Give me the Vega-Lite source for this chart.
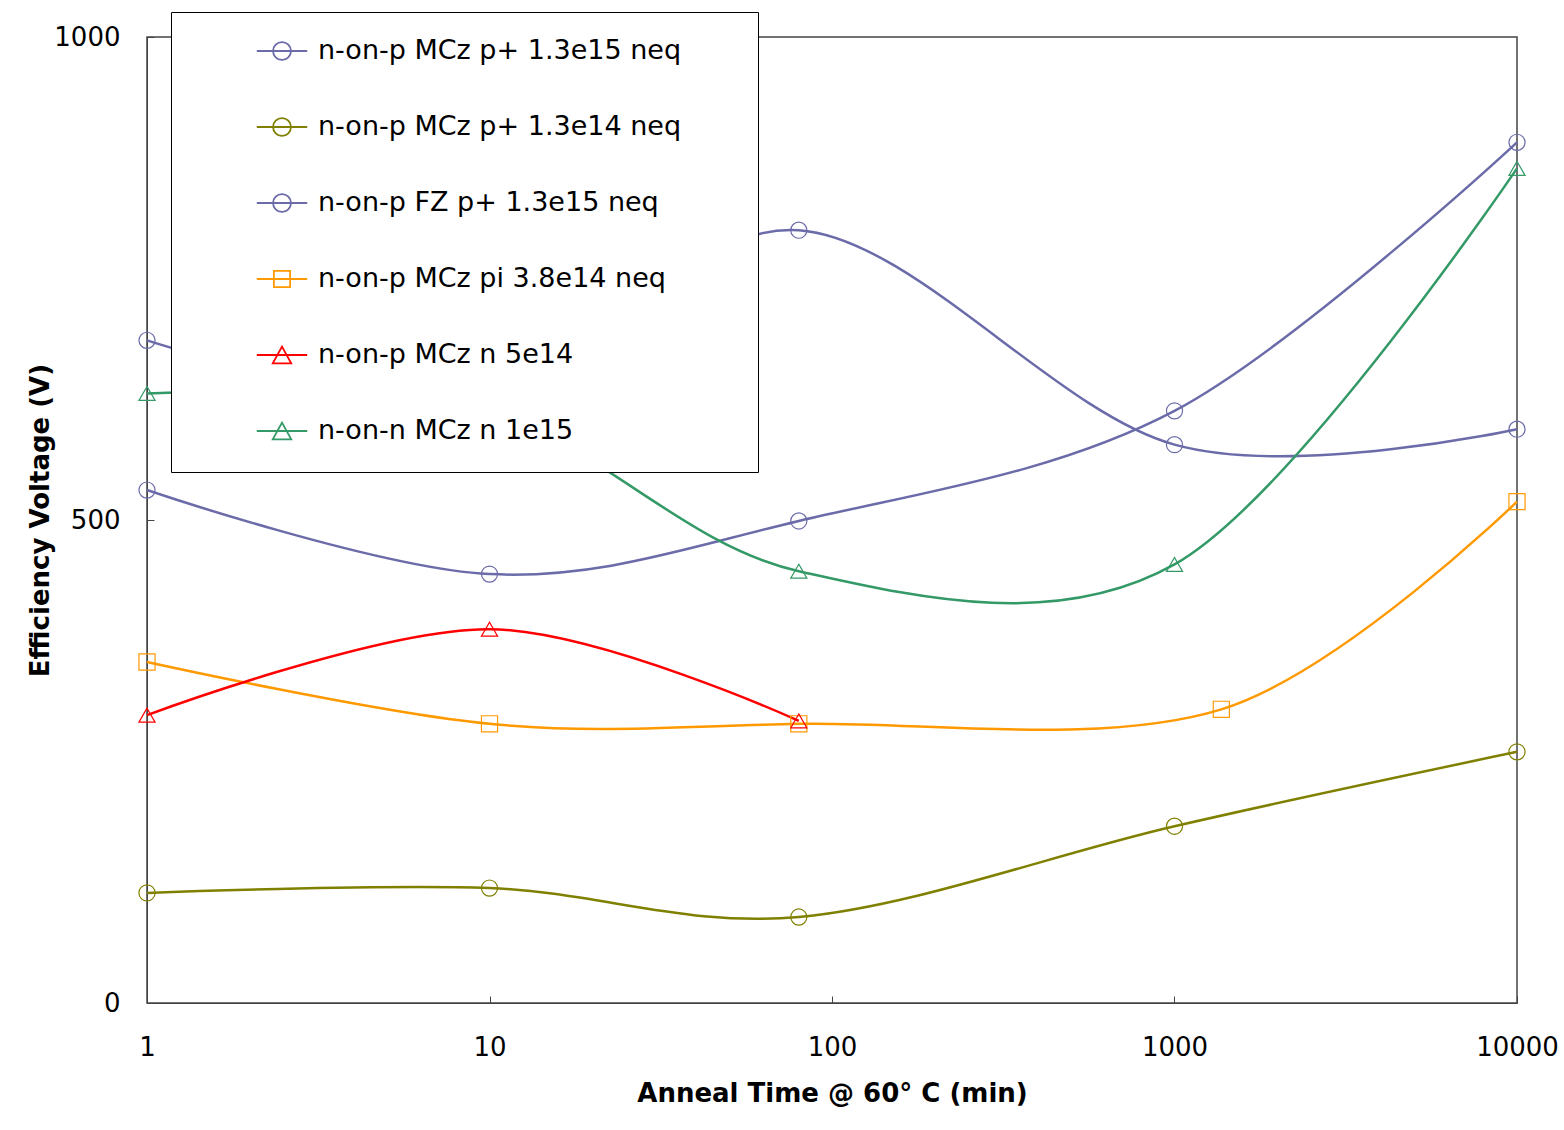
{
  "$schema": "https://vega.github.io/schema/vega-lite/v6.json",
  "width": 1370,
  "height": 966,
  "autosize": {"type": "none"},
  "padding": {"left": 147, "top": 37, "right": 47, "bottom": 127},
  "background": "white",
  "config": {
    "font": "DejaVu Sans",
    "view": {"stroke": "#444", "strokeWidth": 1.5}
  },
  "data": {
    "values": [
      {"series": "n-on-p MCz p+ 1.3e15 neq", "marker": "circle", "time": 1, "voltage": 686},
      {"series": "n-on-p MCz p+ 1.3e15 neq", "marker": "circle", "time": 10, "voltage": 627},
      {"series": "n-on-p MCz p+ 1.3e15 neq", "marker": "circle", "time": 80, "voltage": 800},
      {"series": "n-on-p MCz p+ 1.3e15 neq", "marker": "circle", "time": 1000, "voltage": 578},
      {"series": "n-on-p MCz p+ 1.3e15 neq", "marker": "circle", "time": 10000, "voltage": 594},
      {"series": "n-on-p MCz p+ 1.3e14 neq", "marker": "circle", "time": 1, "voltage": 114},
      {"series": "n-on-p MCz p+ 1.3e14 neq", "marker": "circle", "time": 10, "voltage": 119},
      {"series": "n-on-p MCz p+ 1.3e14 neq", "marker": "circle", "time": 80, "voltage": 89},
      {"series": "n-on-p MCz p+ 1.3e14 neq", "marker": "circle", "time": 1000, "voltage": 183},
      {"series": "n-on-p MCz p+ 1.3e14 neq", "marker": "circle", "time": 10000, "voltage": 260},
      {"series": "n-on-p FZ p+ 1.3e15 neq", "marker": "circle", "time": 1, "voltage": 531},
      {"series": "n-on-p FZ p+ 1.3e15 neq", "marker": "circle", "time": 10, "voltage": 444},
      {"series": "n-on-p FZ p+ 1.3e15 neq", "marker": "circle", "time": 80, "voltage": 499},
      {"series": "n-on-p FZ p+ 1.3e15 neq", "marker": "circle", "time": 1000, "voltage": 613},
      {"series": "n-on-p FZ p+ 1.3e15 neq", "marker": "circle", "time": 10000, "voltage": 891},
      {"series": "n-on-p MCz pi 3.8e14 neq", "marker": "square", "time": 1, "voltage": 353},
      {"series": "n-on-p MCz pi 3.8e14 neq", "marker": "square", "time": 10, "voltage": 289},
      {"series": "n-on-p MCz pi 3.8e14 neq", "marker": "square", "time": 80, "voltage": 289},
      {"series": "n-on-p MCz pi 3.8e14 neq", "marker": "square", "time": 1370, "voltage": 304},
      {"series": "n-on-p MCz pi 3.8e14 neq", "marker": "square", "time": 10000, "voltage": 519},
      {"series": "n-on-p MCz n 5e14", "marker": "triangle-up", "time": 1, "voltage": 298},
      {"series": "n-on-p MCz n 5e14", "marker": "triangle-up", "time": 10, "voltage": 387},
      {"series": "n-on-p MCz n 5e14", "marker": "triangle-up", "time": 80, "voltage": 292},
      {"series": "n-on-n MCz n 1e15", "marker": "triangle-up", "time": 1, "voltage": 631},
      {"series": "n-on-n MCz n 1e15", "marker": "triangle-up", "time": 10, "voltage": 611},
      {"series": "n-on-n MCz n 1e15", "marker": "triangle-up", "time": 80, "voltage": 447},
      {"series": "n-on-n MCz n 1e15", "marker": "triangle-up", "time": 1000, "voltage": 454},
      {"series": "n-on-n MCz n 1e15", "marker": "triangle-up", "time": 10000, "voltage": 864}
    ]
  },
  "encoding": {
    "x": {
      "field": "time",
      "type": "quantitative",
      "scale": {"type": "log", "domain": [1, 10000], "nice": false},
      "axis": {
        "values": [1, 10, 100, 1000, 10000],
        "format": "d",
        "title": "Anneal Time @ 60° C (min)",
        "grid": false,
        "labelFontSize": 26,
        "labelColor": "black",
        "labelFlush": false,
        "titleFontSize": 26,
        "titleFontWeight": "bold",
        "titleColor": "black",
        "titlePadding": 20,
        "domainColor": "#444",
        "tickColor": "#444",
        "tickSize": -7,
        "labelPadding": 38
      }
    },
    "y": {
      "field": "voltage",
      "type": "quantitative",
      "scale": {"domain": [0, 1000], "nice": false},
      "axis": {
        "values": [0, 500, 1000],
        "format": "d",
        "title": "Efficiency Voltage (V)",
        "grid": false,
        "labelFontSize": 26,
        "labelColor": "black",
        "labelFlush": false,
        "titleFontSize": 26,
        "titleFontWeight": "bold",
        "titleColor": "black",
        "titlePadding": 0,
        "domainColor": "#444",
        "tickColor": "#444",
        "tickSize": -7,
        "labelPadding": 34
      }
    },
    "color": {
      "field": "series",
      "type": "nominal",
      "sort": null,
      "scale": {
        "domain": ["n-on-p MCz p+ 1.3e15 neq", "n-on-p MCz p+ 1.3e14 neq", "n-on-p FZ p+ 1.3e15 neq", "n-on-p MCz pi 3.8e14 neq", "n-on-p MCz n 5e14", "n-on-n MCz n 1e15"],
        "range": ["#6B6BAA", "#808000", "#6B6BAA", "#FF9900", "#FF0000", "#339966"]
      },
      "legend": {
        "title": null,
        "orient": "none",
        "legendX": 24,
        "legendY": -25,
        "fillColor": "white",
        "strokeColor": "black",
        "padding": 10,
        "symbolSize": 3136,
        "symbolStrokeWidth": 1.8,
        "rowPadding": 16,
        "labelFontSize": 27,
        "labelColor": "black",
        "labelLimit": 800,
        "symbolOffset": 72,
        "labelOffset": 7,
        "encode": {
          "symbols": {
            "update": {
              "shape": {"signal": "indexof(datum.value, ' pi ') >= 0 ? 'M-0.9,0L0.9,0M-0.29,-0.29L0.29,-0.29L0.29,0.29L-0.29,0.29ZM16.5,0.96' : (indexof(datum.value, ' n ') >= 0 ? 'M-0.9,0L0.9,0M0,-0.3L0.33,0.3L-0.33,0.3ZM16.5,0.96' : 'M-0.9,0L0.9,0M-0.32,0A0.32,0.32,0,1,0,0.32,0A0.32,0.32,0,1,0,-0.32,0M16.5,0.96')"},
              "fill": {"value": "transparent"},
              "stroke": {"scale": "color", "field": "value"}
            }
          }
        }
      }
    }
  },
  "layer": [
    {
      "mark": {"type": "line", "interpolate": "cardinal", "strokeWidth": 2.5}
    },
    {
      "mark": {"type": "point", "filled": false, "strokeWidth": 1.2, "size": 260, "opacity": 1},
      "encoding": {
        "shape": {"field": "marker", "type": "nominal", "scale": null, "legend": null}
      }
    }
  ]
}
